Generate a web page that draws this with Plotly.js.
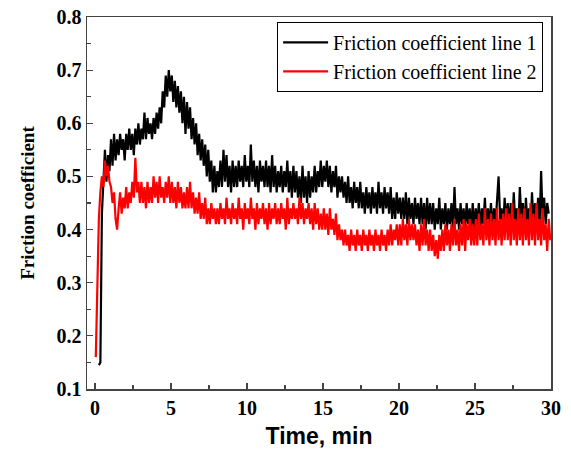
<!DOCTYPE html>
<html>
<head>
<meta charset="utf-8">
<script src="https://cdn.plot.ly/plotly-3.0.1.min.js"></script>
<style>html,body{margin:0;padding:0;background:#fff;}#chart{width:571px;height:459px;}</style>
</head>
<body>
<div id="chart"></div>
<script>
// Sampling: line 1 starts at 0.25 min, line 2 at 0.05 min, one reading every 0.1 min
const startLine1 = 0.25;
const startLine2 = 0.05;
const sampleStep = 0.1;

const friction1 = [
  0.145, 0.15, 0.43, 0.50, 0.55, 0.49, 0.54, 0.51, 0.57, 0.52,
  0.58, 0.53, 0.57, 0.54, 0.58, 0.55, 0.57, 0.53, 0.58, 0.55,
  0.59, 0.55, 0.58, 0.54, 0.59, 0.56, 0.60, 0.56, 0.59, 0.57,
  0.62, 0.57, 0.61, 0.58, 0.60, 0.57, 0.61, 0.58, 0.62, 0.59,
  0.63, 0.60, 0.66, 0.63, 0.69, 0.65, 0.70, 0.66, 0.69, 0.64,
  0.68, 0.63, 0.67, 0.62, 0.66, 0.60, 0.65, 0.58, 0.64, 0.59,
  0.63, 0.57, 0.61, 0.56, 0.60, 0.54, 0.58, 0.53, 0.57, 0.52,
  0.56, 0.50, 0.55, 0.49, 0.53, 0.47, 0.52, 0.47, 0.51, 0.48,
  0.53, 0.48, 0.55, 0.49, 0.54, 0.48, 0.52, 0.47, 0.53, 0.48,
  0.52, 0.48, 0.53, 0.49, 0.52, 0.48, 0.54, 0.49, 0.52, 0.48,
  0.56, 0.49, 0.53, 0.48, 0.52, 0.47, 0.53, 0.49, 0.52, 0.48,
  0.53, 0.48, 0.52, 0.47, 0.54, 0.48, 0.52, 0.47, 0.51, 0.48,
  0.52, 0.47, 0.51, 0.48, 0.53, 0.47, 0.51, 0.46, 0.52, 0.47,
  0.51, 0.46, 0.50, 0.45, 0.52, 0.46, 0.50, 0.45, 0.51, 0.46,
  0.50, 0.47, 0.52, 0.47, 0.51, 0.48, 0.53, 0.48, 0.52, 0.49,
  0.53, 0.48, 0.52, 0.47, 0.51, 0.48, 0.52, 0.46, 0.50, 0.47,
  0.50, 0.46, 0.49, 0.45, 0.50, 0.45, 0.48, 0.44, 0.49, 0.45,
  0.48, 0.44, 0.49, 0.44, 0.47, 0.43, 0.48, 0.44, 0.47, 0.43,
  0.48, 0.44, 0.47, 0.43, 0.49, 0.44, 0.47, 0.43, 0.48, 0.44,
  0.47, 0.43, 0.48, 0.42, 0.46, 0.42, 0.47, 0.43, 0.46, 0.42,
  0.46, 0.42, 0.47, 0.41, 0.46, 0.42, 0.45, 0.41, 0.46, 0.42,
  0.45, 0.41, 0.46, 0.41, 0.45, 0.40, 0.46, 0.41, 0.45, 0.41,
  0.45, 0.40, 0.44, 0.41, 0.46, 0.40, 0.44, 0.41, 0.45, 0.40,
  0.44, 0.41, 0.45, 0.40, 0.48, 0.41, 0.44, 0.40, 0.45, 0.41,
  0.44, 0.40, 0.45, 0.41, 0.44, 0.40, 0.45, 0.40, 0.44, 0.41,
  0.45, 0.40, 0.44, 0.41, 0.46, 0.40, 0.44, 0.41, 0.45, 0.40,
  0.44, 0.41, 0.45, 0.50, 0.42, 0.44, 0.40, 0.46, 0.41, 0.45,
  0.41, 0.45, 0.40, 0.47, 0.41, 0.44, 0.40, 0.48, 0.42, 0.45,
  0.40, 0.46, 0.41, 0.44, 0.40, 0.47, 0.41, 0.45, 0.40, 0.46,
  0.41, 0.51, 0.42, 0.46, 0.41, 0.45, 0.43
];

const friction2 = [
  0.16, 0.30, 0.42, 0.47, 0.50, 0.48, 0.53, 0.50, 0.52, 0.49,
  0.48, 0.45, 0.47, 0.42, 0.40, 0.44, 0.47, 0.43, 0.46, 0.44,
  0.48, 0.44, 0.47, 0.45, 0.49, 0.46, 0.535, 0.47, 0.49, 0.45,
  0.49, 0.45, 0.48, 0.44, 0.49, 0.45, 0.48, 0.45, 0.50, 0.46,
  0.49, 0.45, 0.50, 0.46, 0.48, 0.45, 0.49, 0.46, 0.50, 0.45,
  0.49, 0.45, 0.48, 0.44, 0.49, 0.45, 0.48, 0.44, 0.47, 0.44,
  0.48, 0.44, 0.49, 0.44, 0.47, 0.43, 0.46, 0.43, 0.47, 0.42,
  0.45, 0.42, 0.46, 0.41, 0.44, 0.41, 0.45, 0.42, 0.44, 0.41,
  0.44, 0.41, 0.45, 0.42, 0.44, 0.41, 0.46, 0.42, 0.44, 0.41,
  0.45, 0.42, 0.44, 0.41, 0.46, 0.42, 0.44, 0.40, 0.45, 0.42,
  0.44, 0.41, 0.46, 0.42, 0.44, 0.40, 0.45, 0.41, 0.44, 0.42,
  0.45, 0.41, 0.44, 0.40, 0.45, 0.41, 0.44, 0.42, 0.45, 0.41,
  0.44, 0.41, 0.45, 0.42, 0.44, 0.40, 0.46, 0.41, 0.44, 0.42,
  0.45, 0.42, 0.44, 0.41, 0.46, 0.42, 0.45, 0.41, 0.44, 0.42,
  0.45, 0.41, 0.44, 0.40, 0.45, 0.41, 0.44, 0.40, 0.43, 0.40,
  0.44, 0.40, 0.43, 0.39, 0.44, 0.40, 0.42, 0.39, 0.43, 0.38,
  0.41, 0.38, 0.40, 0.37, 0.40, 0.37, 0.39, 0.36, 0.40, 0.37,
  0.39, 0.36, 0.40, 0.37, 0.39, 0.36, 0.40, 0.37, 0.39, 0.36,
  0.40, 0.37, 0.39, 0.36, 0.40, 0.37, 0.39, 0.36, 0.40, 0.37,
  0.39, 0.36, 0.40, 0.37, 0.41, 0.37, 0.40, 0.38, 0.41, 0.37,
  0.41, 0.37, 0.42, 0.38, 0.41, 0.37, 0.42, 0.38, 0.41, 0.38,
  0.41, 0.37, 0.40, 0.36, 0.41, 0.37, 0.42, 0.37, 0.40, 0.36,
  0.40, 0.36, 0.39, 0.35, 0.38, 0.345, 0.39, 0.36, 0.40, 0.36,
  0.41, 0.37, 0.40, 0.36, 0.41, 0.37, 0.42, 0.37, 0.40, 0.36,
  0.41, 0.37, 0.42, 0.36, 0.41, 0.38, 0.42, 0.37, 0.41, 0.37,
  0.42, 0.37, 0.43, 0.38, 0.41, 0.37, 0.44, 0.38, 0.42, 0.37,
  0.43, 0.38, 0.42, 0.37, 0.44, 0.38, 0.42, 0.37, 0.43, 0.38,
  0.44, 0.38, 0.43, 0.37, 0.45, 0.38, 0.42, 0.37, 0.44, 0.38,
  0.43, 0.37, 0.44, 0.38, 0.42, 0.37, 0.45, 0.38, 0.43, 0.37,
  0.45, 0.38, 0.42, 0.37, 0.44, 0.38, 0.41, 0.36, 0.42, 0.38
];

const seriesNames = ['Friction coefficient line 1', 'Friction coefficient line 2'];
const xTickVals = [0, 5, 10, 15, 20, 25, 30];
const yTickVals = [0.1, 0.2, 0.3, 0.4, 0.5, 0.6, 0.7, 0.8];

const time1 = friction1.map((_, i) => +(startLine1 + i * sampleStep).toFixed(2));
const time2 = friction2.map((_, i) => +(startLine2 + i * sampleStep).toFixed(2));

const serif = 'Liberation Serif, Times New Roman, serif';
const sans = 'Liberation Sans, Arial, sans-serif';

const traces = [
  {x: time1, y: friction1, type: 'scatter', mode: 'lines', name: seriesNames[0],
   line: {color: '#000000', width: 2.2}},
  {x: time2, y: friction2, type: 'scatter', mode: 'lines', name: seriesNames[1],
   line: {color: '#ff0000', width: 2.2}}
];

const axisCommon = {
  showline: true, mirror: true, linecolor: '#444', linewidth: 1.5,
  ticks: 'inside', ticklen: 6, tickwidth: 1.2, tickcolor: '#444',
  showgrid: false, zeroline: false,
  tickfont: {family: serif, size: 20, color: '#000', weight: 'bold'}
};

const layout = {
  width: 571, height: 459,
  margin: {l: 87, r: 20, t: 17, b: 70},
  paper_bgcolor: '#fff', plot_bgcolor: '#fff',
  showlegend: true,
  legend: {x: 0.983, y: 0.987, xanchor: 'right', yanchor: 'top',
    bordercolor: '#000', borderwidth: 1, bgcolor: '#fff',
    font: {family: serif, size: 20, color: '#000'},
    tracegroupgap: 0, itemwidth: 45},
  xaxis: Object.assign({}, axisCommon, {
    range: [-0.53, 30], tickvals: xTickVals, ticktext: xTickVals.map(String),
    minor: {dtick: 2.5, tick0: 0, ticks: 'inside', ticklen: 4, tickcolor: '#444', tickwidth: 1.2},
    title: {text: 'Time, min', font: {family: sans, size: 23, color: '#000', weight: 'bold'}, standoff: 10}
  }),
  yaxis: Object.assign({}, axisCommon, {
    range: [0.1, 0.8], tickvals: yTickVals, ticktext: yTickVals.map(v => v.toFixed(1)),
    minor: {dtick: 0.05, tick0: 0.1, ticks: 'inside', ticklen: 4, tickcolor: '#444', tickwidth: 1.2},
    title: {text: 'Friction coefficient', font: {family: serif, size: 19, color: '#000', weight: 'bold'}, standoff: 17}
  })
};

Plotly.newPlot('chart', traces, layout, {staticPlot: true, displayModeBar: false});
</script>
</body>
</html>
